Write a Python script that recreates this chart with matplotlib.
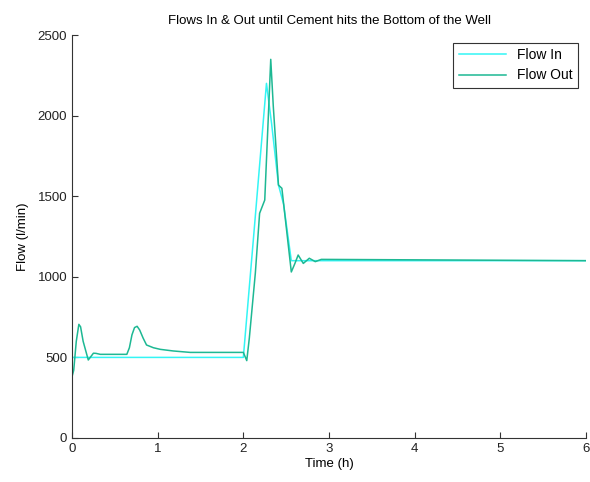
import numpy as np
import matplotlib
matplotlib.use('Agg')
import matplotlib.pyplot as plt

# Flow In (l/min) vs time (h)
t_in = [0.0, 2.0, 2.12, 2.27, 2.33, 2.41, 2.47, 2.56, 6.0]
q_in = [500, 500, 1250, 2200, 1950, 1570, 1450, 1100, 1100]

# Flow Out (l/min) vs time (h)
t_out = [0.0, 0.02, 0.05, 0.08, 0.10, 0.13, 0.19, 0.22, 0.25, 0.28, 0.33,
         0.64, 0.67, 0.70, 0.73, 0.76, 0.79, 0.83, 0.87, 0.95, 1.03, 1.18,
         1.38, 2.0, 2.04, 2.07, 2.14, 2.19, 2.25, 2.29, 2.32, 2.35, 2.41,
         2.45, 2.56, 2.60, 2.64, 2.70, 2.77, 2.84, 2.91, 6.0]
q_out = [380, 420, 600, 705, 690, 600, 484, 505, 526, 525, 519,
         519, 560, 640, 685, 693, 670, 620, 577, 560, 550, 540,
         531, 531, 480, 620, 1022, 1394, 1476, 1973, 2349, 2055, 1569,
         1549, 1030, 1080, 1135, 1083, 1115, 1094, 1108, 1100]

plt.rcParams.update({
    'font.family': 'Liberation Sans',
    'font.size': 9.5,
    'xtick.direction': 'in',
    'ytick.direction': 'in',
})

fig = plt.figure(figsize=(5.9, 4.82), dpi=100)
ax = fig.add_axes([72 / 590, 1 - 438 / 482, (586 - 72) / 590, (438 - 35) / 482])

ax.plot(t_in, q_in, color='#33F5F5', lw=1.1, label='Flow In')
ax.plot(t_out, q_out, color='#1DB893', lw=1.1, label='Flow Out')

ax.set_xlim(0, 6)
ax.set_ylim(0, 2500)
ax.set_xticks(range(0, 7))
ax.set_yticks(range(0, 2501, 500))
ax.set_xlabel('Time (h)', labelpad=2)
ax.set_ylabel('Flow (l/min)', labelpad=6)
ax.set_title('Flows In & Out until Cement hits the Bottom of the Well',
             fontsize=9.5, pad=8)

for side in ['top', 'right']:
    ax.spines[side].set_visible(False)
for side in ['left', 'bottom']:
    ax.spines[side].set_color('#333333')
ax.tick_params(length=4, color='#333333', colors='#222222')

leg = ax.legend(loc='upper right', fancybox=False, edgecolor='#333333',
                framealpha=1, handlelength=3.4, borderaxespad=0.55,
                fontsize=10, labelspacing=0.45)
leg.get_frame().set_linewidth(0.8)

fig.savefig('out.png')
